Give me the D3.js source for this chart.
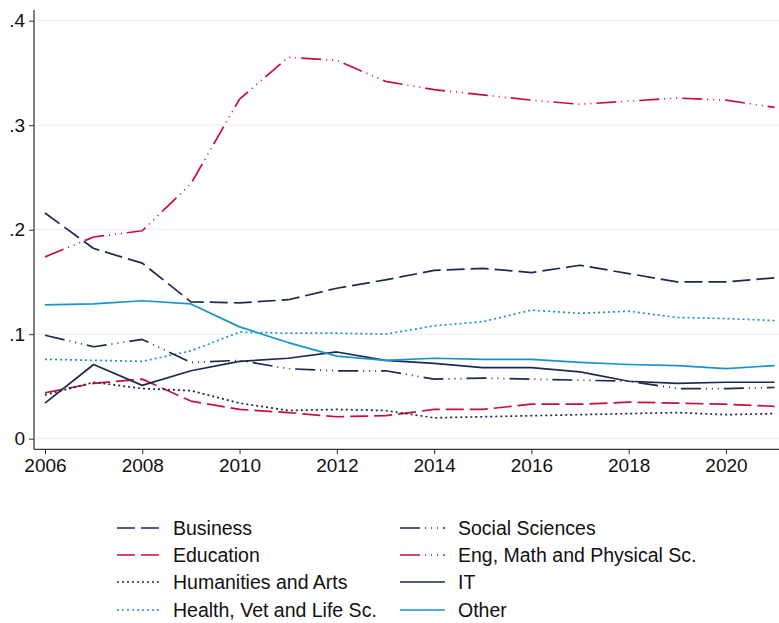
<!DOCTYPE html>
<html><head><meta charset="utf-8">
<script src="https://cdn.jsdelivr.net/npm/d3@7/dist/d3.min.js"></script>
<style>body{margin:0;background:#fff;} svg{display:block;font-family:"Liberation Sans",Arial,sans-serif;}</style>
</head><body>
<script>
const years = [2006,2007,2008,2009,2010,2011,2012,2013,2014,2015,2016,2017,2018,2019,2020,2021];
const business    = [0.216,0.182,0.168,0.131,0.130,0.133,0.144,0.152,0.161,0.163,0.159,0.166,0.158,0.150,0.150,0.154];
const education   = [0.044,0.053,0.057,0.036,0.028,0.025,0.021,0.022,0.028,0.028,0.033,0.033,0.035,0.034,0.033,0.031];
const humanities  = [0.042,0.054,0.048,0.046,0.034,0.027,0.028,0.027,0.020,0.021,0.022,0.023,0.024,0.025,0.023,0.024];
const health      = [0.076,0.075,0.074,0.084,0.102,0.101,0.101,0.100,0.108,0.112,0.123,0.120,0.122,0.116,0.115,0.113];
const social      = [0.099,0.088,0.095,0.073,0.075,0.067,0.065,0.065,0.057,0.058,0.057,0.056,0.055,0.048,0.048,0.049];
const engineering = [0.174,0.193,0.199,0.244,0.325,0.365,0.362,0.342,0.334,0.329,0.324,0.320,0.323,0.326,0.324,0.317];
const it          = [0.034,0.071,0.051,0.065,0.074,0.077,0.083,0.075,0.072,0.068,0.068,0.064,0.055,0.053,0.054,0.054];
const other       = [0.128,0.129,0.132,0.129,0.107,0.092,0.079,0.075,0.077,0.076,0.076,0.073,0.071,0.070,0.067,0.070];
const yTicks = [0, 0.1, 0.2, 0.3, 0.4];
const yTickLabels = ["0", ".1", ".2", ".3", ".4"];
const xTicks = [2006,2008,2010,2012,2014,2016,2018,2020];

const NAVY = "#1c2a50", RED = "#c90f3f", BLUE = "#1a93c9";
const DASH = "18,6", DOT = "2,3", DDD = "20,5,1,5,1,5,1,5";
const series = [
  {name:"Business", values:business, color:NAVY, dash:DASH},
  {name:"Education", values:education, color:RED, dash:DASH},
  {name:"Humanities and Arts", values:humanities, color:NAVY, dash:DOT},
  {name:"Health, Vet and Life Sc.", values:health, color:BLUE, dash:DOT},
  {name:"Social Sciences", values:social, color:NAVY, dash:DDD},
  {name:"Eng, Math and Physical Sc.", values:engineering, color:RED, dash:DDD},
  {name:"IT", values:it, color:NAVY, dash:null},
  {name:"Other", values:other, color:BLUE, dash:null}
];

const W = 779, H = 623;
const FONT = "Liberation Sans, Arial, sans-serif";
const svg = d3.select("body").append("svg").attr("width", W).attr("height", H);
const x = d3.scaleLinear().domain([2006, 2021]).range([45, 774.6]);
const y = d3.scaleLinear().domain([0, 0.4]).range([438.7, 20.7]);
const axisLeftX = 34, axisBottomY = 449.3;

// gridlines
svg.append("g").selectAll("line").data(yTicks).join("line")
  .attr("x1", axisLeftX).attr("x2", W).attr("y1", d => y(d)).attr("y2", d => y(d))
  .attr("stroke", "#ebebeb").attr("stroke-width", 1);

// y axis
const yAxis = d3.axisLeft(y).tickValues(yTicks).tickSize(5).tickPadding(4)
  .tickFormat((d,i) => yTickLabels[i]);
const gy = svg.append("g").attr("transform", `translate(${axisLeftX},0)`).call(yAxis);
gy.select(".domain").attr("d", `M0,10V${axisBottomY}`).attr("stroke", "#555").attr("stroke-width", 1.5);
gy.selectAll(".tick line").attr("stroke", "#333");
gy.selectAll(".tick text").attr("font-size", 19).attr("fill", "#111").attr("font-family", FONT);

// x axis
const xAxis = d3.axisBottom(x).tickValues(xTicks).tickSize(5).tickPadding(4).tickFormat(d3.format("d"));
const gx = svg.append("g").attr("transform", `translate(0,${axisBottomY})`).call(xAxis);
gx.select(".domain").attr("d", `M${axisLeftX},0H${W}`).attr("stroke", "#333").attr("stroke-width", 1.2);
gx.selectAll(".tick line").attr("stroke", "#333");
gx.selectAll(".tick text").attr("font-size", 19).attr("fill", "#111").attr("font-family", FONT);

// lines
const line = d3.line().x((d,i) => x(years[i])).y(d => y(d));
svg.append("g").selectAll("path").data(series).join("path")
  .attr("d", d => line(d.values))
  .attr("fill", "none").attr("stroke", d => d.color).attr("stroke-width", 1.7)
  .attr("stroke-dasharray", d => d.dash).attr("stroke-linejoin", "round");

// legend
const leg = svg.append("g");
const colX = [117, 400], rowY = [528, 555, 582, 610];
series.forEach((s, i) => {
  const col = i < 4 ? 0 : 1, row = i % 4;
  const g = leg.append("g").attr("transform", `translate(${colX[col]},${rowY[row]})`);
  g.append("line").attr("x1", 0).attr("x2", 45).attr("y1", 0).attr("y2", 0)
    .attr("stroke", s.color).attr("stroke-width", 1.7).attr("stroke-dasharray", s.dash);
  g.append("text").attr("x", col === 0 ? 56 : 58).attr("y", 7).attr("font-size", 19.5)
    .attr("font-family", FONT).attr("fill", "#111").text(s.name);
});
</script>
</body></html>
